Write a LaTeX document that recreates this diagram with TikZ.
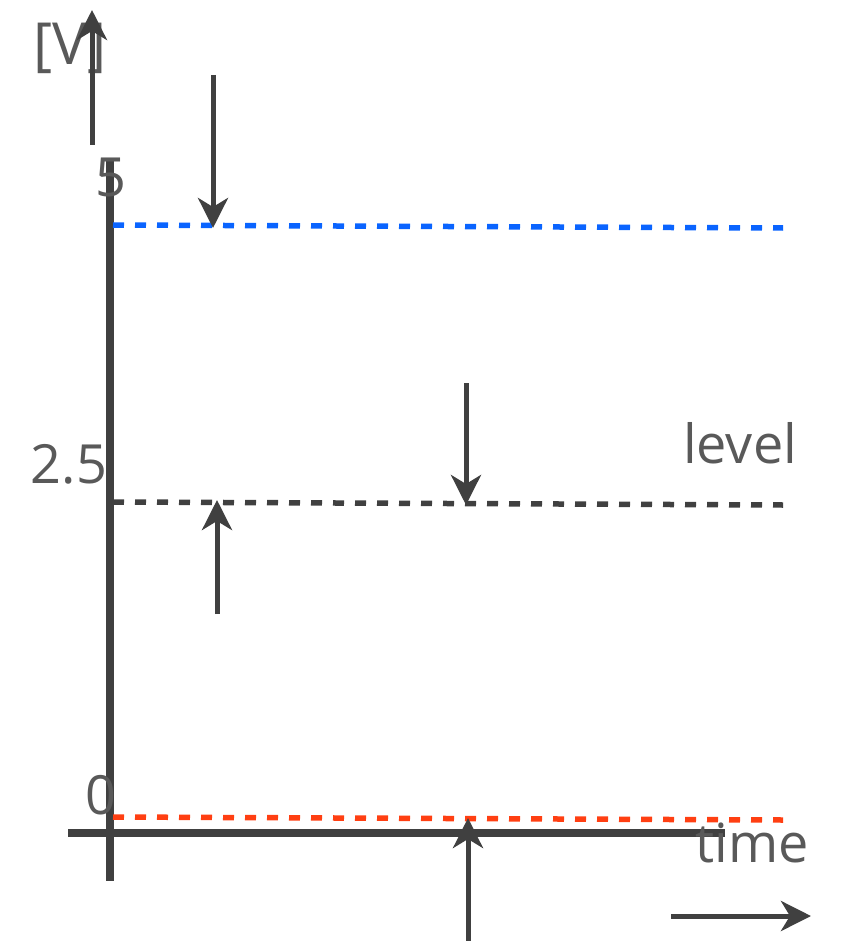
\documentclass[tikz,border=0pt]{standalone}
\usepackage{fontspec}
\setmainfont{Open Sans}
\usetikzlibrary{arrows.meta}
\definecolor{axisgray}{HTML}{404040}
\definecolor{textgray}{HTML}{595959}
\definecolor{levelblue}{HTML}{0A64FF}
\definecolor{levelred}{HTML}{FF3F12}
\tikzset{
  axisline/.style={draw=axisgray, line width=8pt},
  levelline/.style={line width=5.5pt, dash pattern=on 11pt off 11pt},
  pointer/.style={draw=axisgray, line width=5pt,
    -{Stealth[length=30pt,width=30pt,inset=9pt]}},
  label/.style={text=textgray, font=\fontsize{54}{60}\selectfont, inner sep=0pt}
}
\begin{document}
\begin{tikzpicture}[x=1pt,y=-1pt]
\useasboundingbox (0,0) rectangle (840,941);

% axes
\coordinate (ytop) at (110,160);
\coordinate (ybot) at (110,881);
\coordinate (xleft) at (68,833);
\coordinate (xright) at (725,833);
\draw[axisline] (ytop) -- (ybot);
\draw[axisline] (xleft) -- (xright);

% voltage levels
\coordinate (b1) at (113,225); \coordinate (b2) at (783,228);
\coordinate (k1) at (113,502); \coordinate (k2) at (783,505);
\coordinate (r1) at (113,817); \coordinate (r2) at (783,820);
\draw[levelline, levelblue] (b1) -- (b2);
\draw[levelline, axisgray] (k1) -- (k2);
\draw[levelline, levelred] (r1) -- (r2);

% labels
\node[label, font=\fontsize{58}{64}\selectfont] (lv) at (70,48) {[V]};
\node[label] (l5) at (111,177) {5};
\node[label] (l25) at (69,464) {2.5};
\node[label] (l0) at (101,795) {0};
\node[label, anchor=base] (llevel) at (740,463) {level};
\node[label, anchor=base] (ltime) at (752,862) {time};

% pointer arrows
\coordinate (a1s) at (92,145);  \coordinate (a1e) at (92,10);
\coordinate (a2s) at (213,75);  \coordinate (a2e) at (213,228);
\coordinate (a3s) at (466,383); \coordinate (a3e) at (466,505);
\coordinate (a4s) at (217,614); \coordinate (a4e) at (217,500);
\coordinate (a5s) at (468,941); \coordinate (a5e) at (468,818);
\coordinate (a6s) at (671,916); \coordinate (a6e) at (811,916);
\draw[pointer] (a1s) -- (a1e);
\draw[pointer] (a2s) -- (a2e);
\draw[pointer] (a3s) -- (a3e);
\draw[pointer] (a4s) -- (a4e);
\draw[pointer] (a5s) -- (a5e);
\draw[pointer] (a6s) -- (a6e);
\end{tikzpicture}
\end{document}
